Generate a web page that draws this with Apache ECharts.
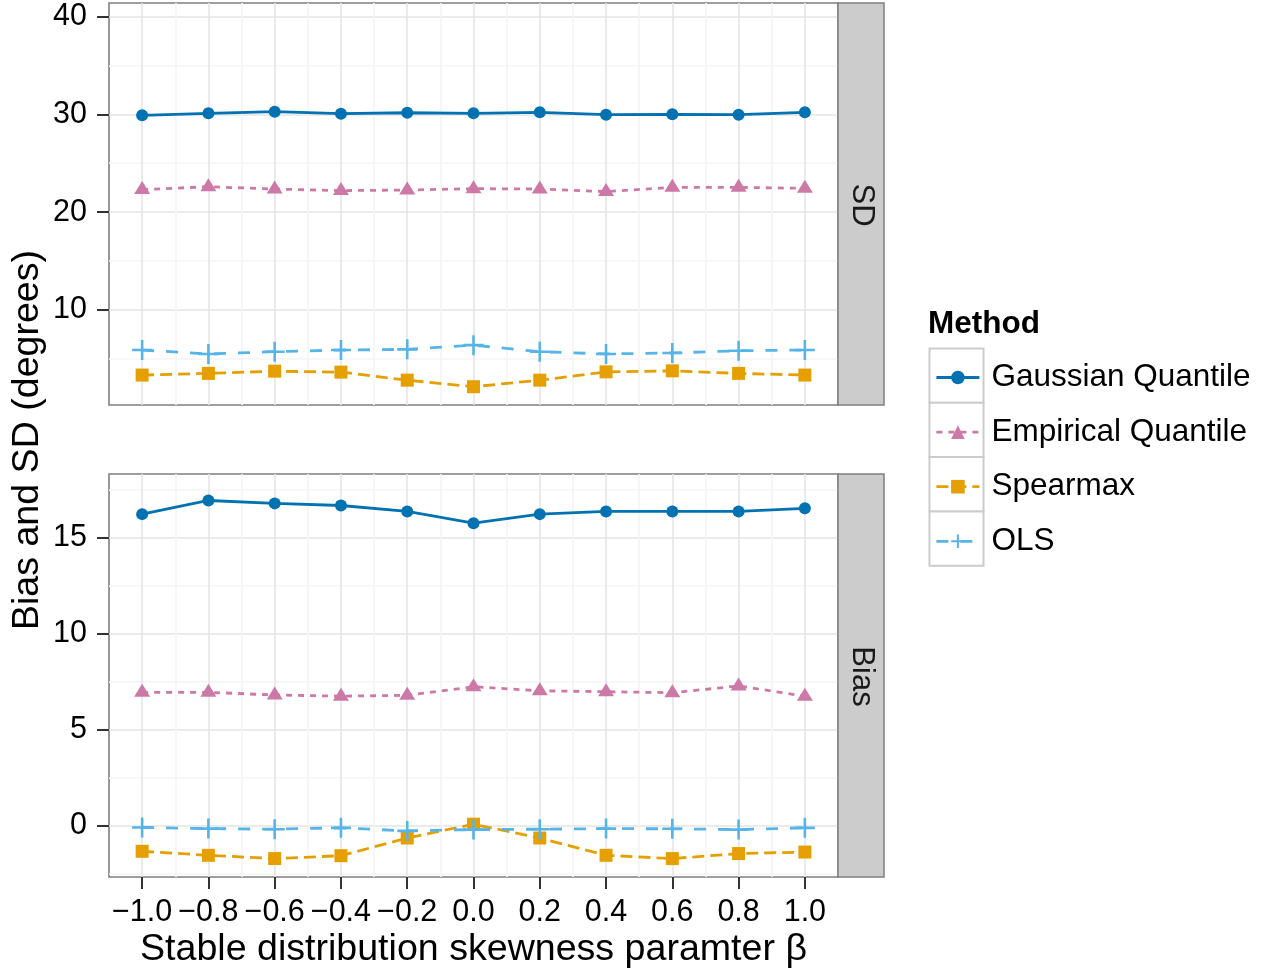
<!DOCTYPE html>
<html>
<head>
<meta charset="utf-8">
<script src="https://cdn.jsdelivr.net/npm/echarts@6/dist/echarts.min.js"></script>
<style>
html,body{margin:0;padding:0;background:#fff;}
#chart{width:1262px;height:974px;}
</style>
</head>
<body>
<div id="chart"></div>
<script>
// ---- data ----
const betas = [-1.0, -0.8, -0.6, -0.4, -0.2, 0.0, 0.2, 0.4, 0.6, 0.8, 1.0];
const methods = ['Gaussian Quantile', 'Empirical Quantile', 'Spearmax', 'OLS'];

const sdGaussian  = [29.90, 30.10, 30.27, 30.06, 30.16, 30.10, 30.20, 29.96, 30.00, 29.96, 30.20];
const sdEmpirical = [22.30, 22.60, 22.36, 22.20, 22.26, 22.40, 22.36, 22.10, 22.53, 22.53, 22.43];
const sdSpearmax  = [3.34, 3.51, 3.74, 3.64, 2.82, 2.15, 2.82, 3.67, 3.77, 3.51, 3.34];
const sdOLS       = [5.90, 5.50, 5.73, 5.90, 5.97, 6.40, 5.73, 5.50, 5.60, 5.83, 5.90];

const biasGaussian  = [16.22, 16.93, 16.78, 16.67, 16.36, 15.75, 16.22, 16.36, 16.36, 16.36, 16.52];
const biasEmpirical = [6.94, 6.94, 6.80, 6.74, 6.78, 7.23, 7.02, 6.97, 6.92, 7.27, 6.74];
const biasSpearmax  = [-1.34, -1.55, -1.72, -1.57, -0.65, 0.07, -0.65, -1.55, -1.72, -1.46, -1.38];
const biasOLS       = [-0.10, -0.16, -0.19, -0.12, -0.28, -0.21, -0.19, -0.16, -0.17, -0.21, -0.12];

const xTicks = [-1.0, -0.8, -0.6, -0.4, -0.2, 0.0, 0.2, 0.4, 0.6, 0.8, 1.0];
const xMinorTicks = [-0.9, -0.7, -0.5, -0.3, -0.1, 0.1, 0.3, 0.5, 0.7, 0.9];
const sdTicks = [10, 20, 30, 40];
const sdMinorTicks = [5, 15, 25, 35];
const biasTicks = [0, 5, 10, 15];
const biasMinorTicks = [-2.5, 2.5, 7.5, 12.5, 17.5];
const stripLabels = ['SD', 'Bias'];

// ---- style ----
const FONT = '"Liberation Sans", Arial, Helvetica, sans-serif';
const colors = ['#0072B2', '#CC79A7', '#E69F00', '#56B4E9'];
const dashes = ['solid', [6, 6], [12, 6], [12, 12]];
const plusPath = 'path://M10,0 L10,20 M0,10 L20,10';
const symbols = ['circle', 'triangle', 'rect', plusPath];
const symbolSizes = [12, [16, 13], 13, 20];
const symbolOffsets = [[0, 0], [0, -2], [0, 0], [0, 0]];

const G = [{left: 109, top: 3, width: 729, height: 402}, {left: 109, top: 474, width: 729, height: 403}];
const MAJOR = '#E5E5E5', MINOR = '#F4F4F4';
const TICKFS = 30.5, TITLEFS = 37.6, LEGFS = 31.5;

const chart = echarts.init(document.getElementById('chart'), null, {renderer: 'canvas'});

function xAxisMain(gi, showLabels) {
  return {
    type: 'value', gridIndex: gi, min: -1.1, max: 1.1, position: 'bottom',
    axisLine: {show: false, onZero: false},
    axisTick: {show: showLabels, customValues: xTicks, length: 12, lineStyle: {color: '#333333', width: 2}},
    axisLabel: {show: showLabels, customValues: xTicks, margin: 21, fontSize: TICKFS, fontFamily: FONT, color: '#000',
      lineHeight: 30, formatter: v => v.toFixed(1).replace('-', '\u2212')},
    splitLine: {show: true, lineStyle: {color: MAJOR, width: 1.6}},
    name: showLabels ? 'Stable distribution skewness paramter \u03B2' : '',
    nameLocation: 'middle', nameGap: 54,
    nameTextStyle: {fontSize: TITLEFS, fontFamily: FONT, color: '#000', lineHeight: 38}
  };
}
function xAxisMinor(gi) {
  return {
    type: 'value', gridIndex: gi, min: -1.1, max: 1.1, position: 'bottom',
    axisLine: {show: false, onZero: false},
    axisTick: {show: false, customValues: xMinorTicks},
    axisLabel: {show: false, customValues: xMinorTicks},
    splitLine: {show: true, lineStyle: {color: MINOR, width: 1.6}}
  };
}
function yAxisMain(gi, min, max, ticks) {
  return {
    type: 'value', gridIndex: gi, min: min, max: max, position: 'left',
    axisLine: {show: false, onZero: false},
    axisTick: {show: true, customValues: ticks, length: 12, lineStyle: {color: '#333333', width: 2}},
    axisLabel: {show: true, customValues: ticks, margin: 22, fontSize: TICKFS, fontFamily: FONT, color: '#000'},
    splitLine: {show: true, lineStyle: {color: MAJOR, width: 1.6}}
  };
}
function yAxisMinor(gi, min, max, ticks) {
  return {
    type: 'value', gridIndex: gi, min: min, max: max, position: 'left',
    axisLine: {show: false, onZero: false},
    axisTick: {show: false, customValues: ticks},
    axisLabel: {show: false, customValues: ticks},
    splitLine: {show: true, lineStyle: {color: MINOR, width: 1.6}}
  };
}

const panelData = [
  [sdGaussian, sdEmpirical, sdSpearmax, sdOLS],
  [biasGaussian, biasEmpirical, biasSpearmax, biasOLS]
];

const series = [];
panelData.forEach((arrs, gi) => {
  arrs.forEach((vals, mi) => {
    series.push({
      name: methods[mi], type: 'line', xAxisIndex: gi, yAxisIndex: gi,
      data: betas.map((b, i) => [b, vals[i]]),
      symbol: symbols[mi], symbolSize: symbolSizes[mi], symbolOffset: symbolOffsets[mi],
      showSymbol: true, showAllSymbol: true,
      lineStyle: {color: colors[mi], width: 2.8, type: dashes[mi]},
      itemStyle: {color: colors[mi], borderColor: colors[mi], borderWidth: mi === 3 ? 2.6 : 0, opacity: 1},
      emphasis: {disabled: true}, z: 3
    });
  });
});

const graphics = [
  {type: 'text', x: 27.5, y: 440, rotation: Math.PI / 2,
   style: {text: 'Bias and SD (degrees)', fontSize: TITLEFS, fontFamily: FONT, fill: '#000', align: 'center', verticalAlign: 'middle', textAlign: 'center', textVerticalAlign: 'middle'}},
  {type: 'text', x: 928, y: 324.6,
   style: {text: 'Method', fontSize: LEGFS, fontWeight: 'bold', fontFamily: FONT, fill: '#000', align: 'left', verticalAlign: 'middle', textAlign: 'left', textVerticalAlign: 'middle'}}
];
G.forEach((g, gi) => {
  graphics.push({type: 'rect', shape: {x: g.left + g.width, y: g.top, width: 46, height: g.height},
    style: {fill: '#CCCCCC', stroke: '#7F7F7F', lineWidth: 1.5}, z: 1});
  graphics.push({type: 'text', x: g.left + g.width + 23.5, y: g.top + g.height / 2 + 1, rotation: -Math.PI / 2,
    style: {text: stripLabels[gi], fontSize: 31, fontFamily: FONT, fill: '#1A1A1A', align: 'center', verticalAlign: 'middle', textAlign: 'center', textVerticalAlign: 'middle'}, z: 2});
});
methods.forEach((m, i) => {
  graphics.push({type: 'rect', shape: {x: 929.5, y: 348.5 + i * 54.3, width: 54, height: 54.3},
    style: {fill: '#FFFFFF', stroke: '#CCCCCC', lineWidth: 2}, z: 0});
});

chart.setOption({
  animation: false,
  backgroundColor: '#FFFFFF',
  textStyle: {fontFamily: FONT},
  grid: G.map(g => Object.assign({show: true, borderColor: '#7F7F7F', borderWidth: 1.6, backgroundColor: '#FFFFFF', containLabel: false}, g)),
  xAxis: [xAxisMain(0, false), xAxisMain(1, true), xAxisMinor(0), xAxisMinor(1)],
  yAxis: [yAxisMain(0, 0.28, 41.38, sdTicks), yAxisMain(1, -2.68, 18.31, biasTicks),
          yAxisMinor(0, 0.28, 41.38, sdMinorTicks), yAxisMinor(1, -2.68, 18.31, biasMinorTicks)],
  legend: {
    data: methods, orient: 'vertical', left: 935, top: 361.5, padding: 0,
    itemWidth: 43, itemHeight: 17, itemGap: 22.6, selectedMode: false,
    textStyle: {fontSize: LEGFS, fontFamily: FONT, color: '#000', lineHeight: 31, padding: [0, 0, 0, 7]},
    lineStyle: {width: 2.8},
    z: 5
  },
  graphic: graphics,
  series: series
});
</script>
</body>
</html>
